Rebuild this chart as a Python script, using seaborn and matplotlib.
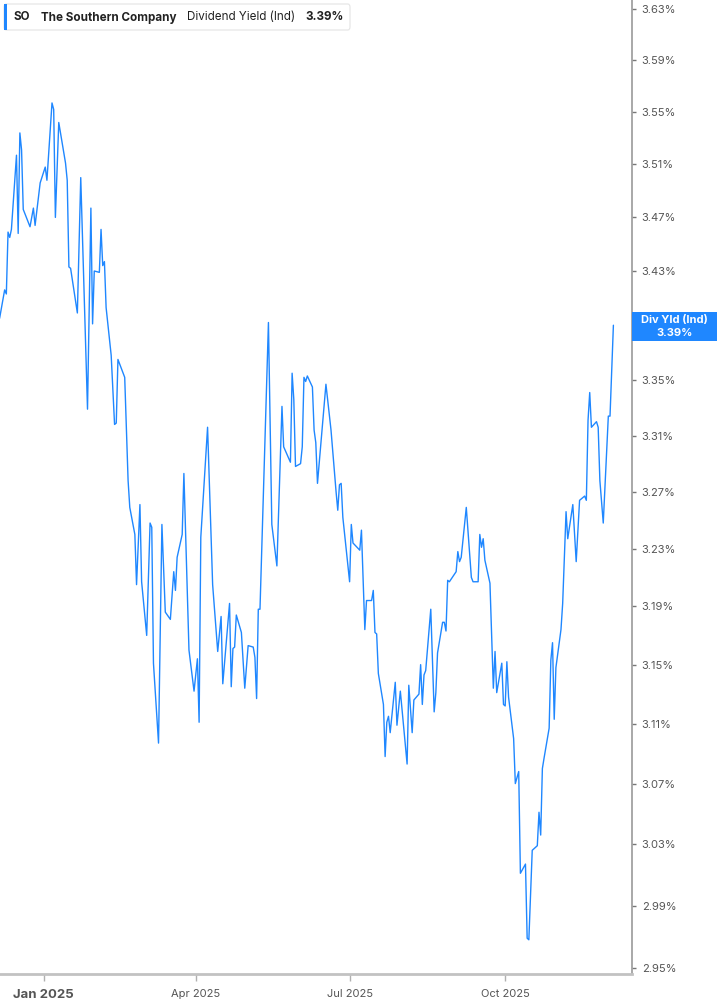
import matplotlib
matplotlib.use('Agg')
import matplotlib.pyplot as plt
import matplotlib.patches as patches
import matplotlib.ticker as mticker
import seaborn as sns
import pandas as pd

# Rendement du dividende de SO
dates = [
    '2024-12-06', '2024-12-09', '2024-12-10', '2024-12-11', '2024-12-12', '2024-12-13',
    '2024-12-16', '2024-12-17', '2024-12-18', '2024-12-19', '2024-12-20', '2024-12-24',
    '2024-12-26', '2024-12-27', '2024-12-30', '2025-01-02', '2025-01-03', '2025-01-06',
    '2025-01-07', '2025-01-08', '2025-01-10', '2025-01-14', '2025-01-15', '2025-01-16',
    '2025-01-17', '2025-01-21', '2025-01-23', '2025-01-27', '2025-01-29', '2025-01-30',
    '2025-01-31', '2025-02-03', '2025-02-04', '2025-02-05', '2025-02-06', '2025-02-07',
    '2025-02-10', '2025-02-12', '2025-02-13', '2025-02-14', '2025-02-18', '2025-02-20',
    '2025-02-21', '2025-02-24', '2025-02-25', '2025-02-27', '2025-02-28', '2025-03-03',
    '2025-03-05', '2025-03-06', '2025-03-07', '2025-03-10', '2025-03-12', '2025-03-14',
    '2025-03-17', '2025-03-19', '2025-03-20', '2025-03-21', '2025-03-24', '2025-03-25',
    '2025-03-28', '2025-03-31', '2025-04-02', '2025-04-03', '2025-04-04', '2025-04-08',
    '2025-04-11', '2025-04-14', '2025-04-16', '2025-04-17', '2025-04-21', '2025-04-22',
    '2025-04-23', '2025-04-24', '2025-04-25', '2025-04-28', '2025-04-30', '2025-05-02',
    '2025-05-05', '2025-05-06', '2025-05-07', '2025-05-08', '2025-05-09', '2025-05-14',
    '2025-05-16', '2025-05-19', '2025-05-22', '2025-05-23', '2025-05-27', '2025-05-28',
    '2025-05-29', '2025-05-30', '2025-06-02', '2025-06-03', '2025-06-04', '2025-06-05',
    '2025-06-06', '2025-06-09', '2025-06-10', '2025-06-11', '2025-06-12', '2025-06-17',
    '2025-06-20', '2025-06-23', '2025-06-24', '2025-06-25', '2025-06-26', '2025-06-27',
    '2025-07-01', '2025-07-02', '2025-07-03', '2025-07-07', '2025-07-08', '2025-07-10',
    '2025-07-11', '2025-07-14', '2025-07-15', '2025-07-16', '2025-07-17', '2025-07-18',
    '2025-07-21', '2025-07-22', '2025-07-23', '2025-07-24', '2025-07-25', '2025-07-28',
    '2025-07-29', '2025-07-31', '2025-08-04', '2025-08-05', '2025-08-07', '2025-08-08',
    '2025-08-11', '2025-08-12', '2025-08-13', '2025-08-14', '2025-08-15', '2025-08-18',
    '2025-08-20', '2025-08-21', '2025-08-22', '2025-08-25', '2025-08-26', '2025-08-27',
    '2025-08-28', '2025-08-29', '2025-09-02', '2025-09-03', '2025-09-04', '2025-09-05',
    '2025-09-08', '2025-09-11', '2025-09-12', '2025-09-15', '2025-09-16', '2025-09-17',
    '2025-09-18', '2025-09-19', '2025-09-22', '2025-09-24', '2025-09-25', '2025-09-26',
    '2025-09-29', '2025-09-30', '2025-10-01', '2025-10-02', '2025-10-03', '2025-10-06',
    '2025-10-07', '2025-10-09', '2025-10-10', '2025-10-13', '2025-10-14', '2025-10-15',
    '2025-10-17', '2025-10-20', '2025-10-21', '2025-10-22', '2025-10-23', '2025-10-24',
    '2025-10-27', '2025-10-28', '2025-10-29', '2025-10-30', '2025-10-31', '2025-11-03',
    '2025-11-04', '2025-11-06', '2025-11-07', '2025-11-10', '2025-11-12', '2025-11-14',
    '2025-11-17', '2025-11-18', '2025-11-19', '2025-11-20', '2025-11-21', '2025-11-24',
    '2025-11-25', '2025-11-26', '2025-11-28', '2025-12-01', '2025-12-02', '2025-12-04',
]
yield_pct = [
    3.395, 3.416, 3.413, 3.459, 3.455, 3.461,
    3.517, 3.458, 3.534, 3.521, 3.476, 3.463,
    3.477, 3.464, 3.496, 3.508, 3.498, 3.557,
    3.552, 3.470, 3.542, 3.511, 3.498, 3.433,
    3.432, 3.399, 3.500, 3.329, 3.477, 3.391,
    3.430, 3.429, 3.461, 3.434, 3.437, 3.403,
    3.368, 3.318, 3.319, 3.365, 3.352, 3.278,
    3.259, 3.240, 3.205, 3.261, 3.207, 3.170,
    3.248, 3.245, 3.151, 3.097, 3.247, 3.186,
    3.181, 3.214, 3.201, 3.224, 3.240, 3.283,
    3.160, 3.132, 3.154, 3.111, 3.238, 3.316,
    3.205, 3.159, 3.183, 3.137, 3.192, 3.135,
    3.161, 3.162, 3.184, 3.172, 3.134, 3.163,
    3.162, 3.155, 3.127, 3.188, 3.188, 3.392,
    3.247, 3.218, 3.331, 3.302, 3.291, 3.355,
    3.336, 3.288, 3.290, 3.302, 3.352, 3.349,
    3.353, 3.345, 3.314, 3.305, 3.276, 3.347,
    3.314, 3.270, 3.257, 3.275, 3.276, 3.252,
    3.207, 3.247, 3.234, 3.229, 3.243, 3.174,
    3.194, 3.194, 3.201, 3.172, 3.171, 3.144,
    3.123, 3.088, 3.111, 3.115, 3.104, 3.138,
    3.109, 3.132, 3.083, 3.136, 3.104, 3.126,
    3.130, 3.150, 3.123, 3.143, 3.146, 3.188,
    3.118, 3.131, 3.158, 3.179, 3.179, 3.173,
    3.208, 3.207, 3.214, 3.228, 3.221, 3.224,
    3.259, 3.210, 3.207, 3.207, 3.240, 3.231,
    3.237, 3.222, 3.206, 3.134, 3.159, 3.131,
    3.151, 3.123, 3.122, 3.152, 3.128, 3.100,
    3.070, 3.078, 3.011, 3.017, 2.969, 2.968,
    3.026, 3.029, 3.051, 3.036, 3.080, 3.087,
    3.107, 3.153, 3.165, 3.113, 3.148, 3.174,
    3.192, 3.256, 3.237, 3.261, 3.221, 3.264,
    3.267, 3.264, 3.321, 3.341, 3.316, 3.320,
    3.316, 3.278, 3.248, 3.324, 3.324, 3.390,
]

y_ticks = [2.95, 2.99, 3.03, 3.07, 3.11, 3.15, 3.19, 3.23, 3.27,
           3.31, 3.35, 3.39, 3.43, 3.47, 3.51, 3.55, 3.59, 3.63]
x_tick_dates = ['2025-01-01', '2025-04-01', '2025-07-01', '2025-10-01']
x_tick_labels = ['Jan 2025', 'Apr 2025', 'Jul 2025', 'Oct 2025']

symbol = 'SO'
company = 'The Southern Company'
metric = 'Dividend Yield (Ind)'
last_value = '3.39%'
badge_title = 'Div Yld (Ind)'

BLUE = '#1f87ff'
W, H = 717, 1005

sns.set_theme(style='white')
plt.rcParams['font.family'] = ['Inter', 'DejaVu Sans']

df = pd.DataFrame({'date': pd.to_datetime(dates), 'yield': yield_pct})

fig = plt.figure(figsize=(W / 100, H / 100), dpi=100)
ax = fig.add_axes([0, 31 / H, 632 / W, 974 / H])

sns.lineplot(data=df, x='date', y='yield', ax=ax, color=BLUE, lw=1.0, estimator=None)

ax.set_yscale('log')
ax.set_ylim(2.9461, 3.6371)
ax.set_xlim(pd.Timestamp('2024-12-06 06:00'), pd.Timestamp('2025-12-15'))

# l'étiquette 3.39% est cachée sous le badge de la dernière valeur
ytick_labels = ['' if f'{v:.2f}%' == last_value else f'{v:.2f}%' for v in y_ticks]
ax.yaxis.tick_right()
ax.set_yticks(y_ticks, labels=ytick_labels)
ax.yaxis.set_minor_locator(mticker.NullLocator())
ax.yaxis.set_minor_formatter(mticker.NullFormatter())
ax.set_xticks(pd.to_datetime(x_tick_dates), labels=x_tick_labels)
ax.set_xlabel('')
ax.set_ylabel('')

ax.tick_params(axis='y', which='major', right=True, left=False, length=3, width=1,
               color='#777777', pad=4, labelsize=8, labelcolor='#555555')
ax.tick_params(axis='x', which='major', bottom=True, length=5, width=1,
               color='#b0b0b0', pad=6, labelsize=8, labelcolor='#555555')
for lbl in ax.get_xticklabels():
    if lbl.get_text() == 'Jan 2025':
        lbl.set_fontweight('bold')
        lbl.set_fontsize(9.5)

for side in ['top', 'left']:
    ax.spines[side].set_visible(False)
ax.spines['right'].set_color('#9a9a9a')
ax.spines['right'].set_linewidth(1.2)
ax.spines['bottom'].set_color('#c2c2c2')
ax.spines['bottom'].set_linewidth(2)


def px(x, y):
    return x / W, 1 - y / H


# Encadré du titre en haut à gauche
box = patches.FancyBboxPatch(px(4, 30), 346 / W, 26 / H,
                             boxstyle='round,pad=0,rounding_size=0.003',
                             transform=fig.transFigure, fc='white', ec='#e4e4e4', lw=0.8)
fig.add_artist(box)
fig.add_artist(patches.Rectangle(px(4, 30), 3.3 / W, 26 / H, transform=fig.transFigure,
                                 fc=BLUE, ec='none'))

renderer = fig.canvas.get_renderer()
x_cur = 13.3
for txt, weight, gap in [(symbol, 'bold', 11), (company, 'bold', 11),
                         (metric, 'normal', 10), (last_value, 'bold', 0)]:
    t = fig.text(*px(x_cur, 17.5), txt, ha='left', va='center', fontsize=8.4,
                 fontweight=weight, color='#222222')
    x_cur += t.get_window_extent(renderer).width + gap

# Étiquette de la dernière valeur sur l'axe de droite
fig.add_artist(patches.Rectangle(px(632, 341), 85 / W, 29 / H, transform=fig.transFigure,
                                 fc=BLUE, ec='none', zorder=5))
fig.text(*px(674.5, 320), badge_title, ha='center', va='center', fontsize=8,
         fontweight='bold', color='white', zorder=6)
fig.text(*px(674.5, 333), last_value, ha='center', va='center', fontsize=8,
         fontweight='bold', color='white', zorder=6)

fig.savefig('out.png', dpi=100)
